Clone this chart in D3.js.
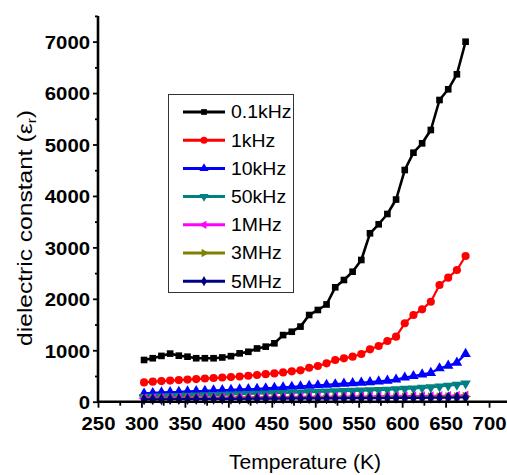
<!DOCTYPE html>
<html><head><meta charset="utf-8">
<script src="https://cdn.jsdelivr.net/npm/d3@7"></script>
<style>body{margin:0;background:#fff}svg{display:block}text{font-family:"Liberation Sans",Arial,sans-serif}</style>
</head><body>
<svg id="c" width="507" height="475"></svg>
<script>
const temperatures = [303,313,323,333,343,353,363,373,383,393,403,413,423,433,443,453,463,473,483,493,503,513,523,533,543,553,563,573,583,593,603,613,623,633,643,653,663,673];
const seriesNames = ["0.1kHz","1kHz","10kHz","50kHz","1MHz","3MHz","5MHz"];
const s01kHz = [811,845,890,935,895,875,845,845,845,860,885,940,970,1035,1070,1135,1295,1360,1460,1685,1783,1890,2224,2366,2527,2755,3274,3449,3649,3930,4504,4841,5023,5282,5865,6073,6365,6998];
const s1kHz = [375,390,400,410,420,430,440,450,460,470,480,490,505,520,535,550,570,590,610,660,694,746,811,843,875,927,1018,1083,1180,1264,1524,1685,1796,1944,2268,2411,2560,2832];
const s10kHz = [160,170,180,185,190,200,205,210,220,225,230,240,245,250,260,270,280,290,300,310,320,330,340,350,360,370,380,395,410,430,470,500,530,560,650,700,760,930];
const s50kHz = [90,95,100,104,110,114,120,124,130,134,140,146,150,156,160,166,170,176,180,186,190,196,200,206,210,216,220,226,232,240,250,258,270,280,295,310,330,355];
const s1MHz = [68,70,72,73,75,76,77,78,80,81,82,83,84,86,87,88,89,90,92,93,94,95,96,97,98,100,101,102,104,105,107,108,110,112,114,116,118,122];
const s3MHz = [55,56,57,58,59,60,61,62,63,64,65,66,67,68,69,70,71,72,73,74,75,76,77,78,79,80,81,82,83,84,85,86,88,90,92,94,96,100];
const s5MHz = [45,46,47,48,49,50,51,52,53,54,55,56,57,58,59,60,61,62,63,63,64,65,66,67,68,69,70,71,72,73,74,75,76,77,79,80,82,85];
const xTicks = [250,300,350,400,450,500,550,600,650,700];
const yTicks = [0,1000,2000,3000,4000,5000,6000,7000];

const seriesValues = [s01kHz,s1kHz,s10kHz,s50kHz,s1MHz,s3MHz,s5MHz];
const colors = ["#000000","#ff0000","#0000ff","#008080","#ff00ff","#808000","#000080"];
const symbols = [d3.symbolSquare,d3.symbolCircle,d3.symbolTriangle,d3.symbolTriangle,d3.symbolTriangle,d3.symbolTriangle,d3.symbolDiamond];
const rotations = [0,0,0,180,-90,90,0];
const sizes = [44,52,48,48,40,40,40];

const svg = d3.select("#c");
const x = d3.scaleLinear().domain([250,721]).range([98,507.3]);
const y = d3.scaleLinear().domain([0,7500]).range([401.7,15.9]);

function stretch(sel, f){ sel.each(function(){ const L=this.getComputedTextLength(); d3.select(this).attr("textLength",L*f).attr("lengthAdjust","spacingAndGlyphs"); }); }

// data
seriesValues.forEach((vals,i)=>{
  const pts = temperatures.map((t,j)=>[t,vals[j]]);
  const g = svg.append("g");
  g.append("path").attr("d", d3.line().x(d=>x(d[0])).y(d=>y(d[1]))(pts))
    .attr("fill","none").attr("stroke",colors[i]).attr("stroke-width",i===0?2.6:2.2).attr("stroke-linejoin","round");
  g.selectAll("path.m").data(pts).join("path").attr("class","m")
    .attr("d", d3.symbol().type(symbols[i]).size(sizes[i]))
    .attr("transform", d=>`translate(${x(d[0])},${y(d[1])}) rotate(${rotations[i]})`)
    .attr("fill",colors[i]);
});

// axes
const xAxis = svg.append("g").attr("transform",`translate(0,${y(0)})`)
  .call(d3.axisBottom(x).tickValues(d3.range(250,721,25)).tickSize(6).tickFormat(d=>xTicks.includes(d)?d:""));
xAxis.select(".domain").attr("stroke-width",2.6).attr("d",`M${x(250)-1},0H507`);
xAxis.selectAll(".tick line").attr("stroke-width",1.8).attr("y2",d=>xTicks.includes(d)?6:4);
xAxis.selectAll(".tick text").attr("font-size",19).attr("font-weight","bold").attr("fill","#000").attr("dy","1.2em").attr("y",6);
const yAxis = svg.append("g").attr("transform",`translate(${x(250)},0)`)
  .call(d3.axisLeft(y).tickValues(d3.range(0,7501,500)).tickSize(5).tickFormat(d=>yTicks.includes(d)?d:""));
yAxis.select(".domain").attr("stroke-width",2.6).attr("d",`M0,${y(7500)}V${y(0)+1}`);
yAxis.selectAll(".tick line").attr("stroke-width",1.8).attr("x2",d=>yTicks.includes(d)?-5:-3);
yAxis.selectAll(".tick text").attr("font-size",19).attr("font-weight","bold").attr("fill","#000").attr("x",-8).attr("dy","0.36em");
stretch(xAxis.selectAll(".tick text"),1.07);
stretch(yAxis.selectAll(".tick text"),1.07);

// titles
const xt = svg.append("text").attr("x",305).attr("y",469).attr("text-anchor","middle").attr("font-size",19.5).text("Temperature (K)");
stretch(xt,1.08);
const yt = svg.append("text").attr("transform","translate(32,228) rotate(-90) scale(1.17,1)").attr("text-anchor","middle").attr("font-size",21);
yt.append("tspan").text("dielectric constant (ε");
yt.append("tspan").attr("font-size",13).attr("dy",4).text("r");
yt.append("tspan").attr("dy",-4).text(")");

// legend
const lg = svg.append("g");
lg.append("rect").attr("x",168.5).attr("y",94.5).attr("width",125).attr("height",198).attr("fill","#fff").attr("stroke","#333").attr("stroke-width",1);
seriesNames.forEach((n,i)=>{
  const yy = 112 + i*28.2;
  lg.append("line").attr("x1",183).attr("x2",225).attr("y1",yy).attr("y2",yy).attr("stroke",colors[i]).attr("stroke-width",3);
  lg.append("path").attr("d",d3.symbol().type(symbols[i]).size(sizes[i]*0.75)).attr("transform",`translate(204,${yy}) rotate(${rotations[i]})`).attr("fill",colors[i]);
  const t = lg.append("text").attr("x",231).attr("y",yy).attr("dy","0.36em").attr("font-size",18).text(n);
  stretch(t,1.08);
});
</script>
</body></html>
